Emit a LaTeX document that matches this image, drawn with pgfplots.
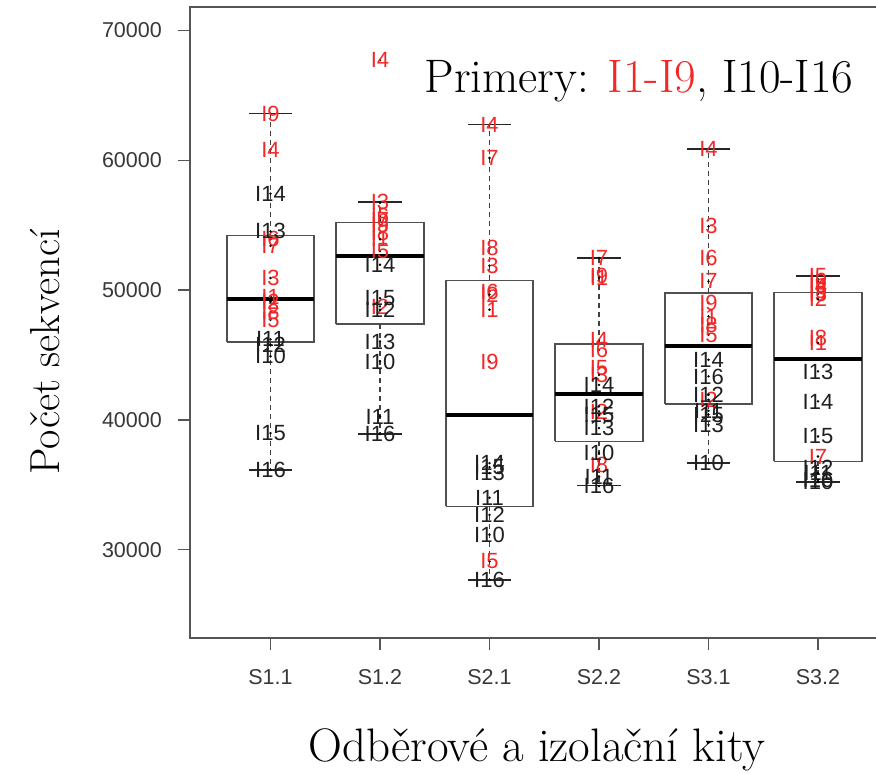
\documentclass[border=0pt]{standalone}
\usepackage{pgfplots}
\pgfplotsset{compat=1.18}
\usepackage{pgfplotstable}
\usepackage{fontspec}
\newfontfamily\arial{Liberation Sans}
\definecolor{rlab}{RGB}{242,40,40}
\definecolor{framec}{RGB}{85,85,85}
\definecolor{boxc}{RGB}{80,80,80}

\pgfplotstableread{
x y lbl
1 63583 I9
1 60809 I4
1 53900 I6
1 53400 I7
1 50925 I3
1 49500 I1
1 49100 I2
1 48300 I8
1 47700 I5
2 67700 I4
2 56780 I3
2 55700 I6
2 55400 I7
2 55000 I9
2 54400 I8
2 53900 I1
2 53000 I5
2 48740 I2
3 62735 I4
3 60170 I7
3 53236 I8
3 51873 I3
3 49893 I6
3 49640 I2
3 48483 I1
3 44500 I9
3 29100 I5
4 52466 I7
4 51050 I9
4 50950 I1
4 46160 I4
4 45390 I6
4 43990 I5
4 43470 I3
4 40650 I2
4 36540 I8
5 60863 I4
5 54900 I3
5 52466 I6
5 50663 I7
5 49000 I9
5 47966 I1
5 47327 I8
5 46556 I5
5 41549 I2
6 51100 I5
6 50700 I6
6 50300 I4
6 49900 I9
6 49700 I3
6 49300 I2
6 46300 I8
6 45920 I1
6 37180 I7
}\redlabels

\pgfplotstableread{
x y lbl
1 57420 I14
1 54515 I13
1 46200 I11
1 45800 I12
1 44900 I10
1 38984 I15
1 36156 I16
2 51950 I14
2 49384 I15
2 48480 I12
2 46040 I13
2 44500 I10
2 40262 I11
2 38906 I16
3 36670 I14
3 36360 I15
3 35900 I13
3 34000 I11
3 32690 I12
3 31150 I10
3 27680 I16
4 42700 I14
4 41033 I12
4 40390 I15
4 39370 I13
4 37444 I10
4 35640 I11
4 34900 I16
5 44630 I14
5 43344 I16
5 41934 I12
5 40700 I11
5 40400 I15
5 39620 I13
5 36670 I10
6 43730 I13
6 41420 I14
6 38720 I15
6 36300 I12
6 35900 I11
6 35400 I16
6 35200 I10
}\blacklabels

\begin{document}
\begin{tikzpicture}
\begin{axis}[
  at={(0pt,0pt)}, anchor=south west,
  scale only axis, width=708.5pt, height=631pt,
  xmin=0.2648, xmax=6.7352, ymin=23200, ymax=71800,
  axis line style={draw=framec, line width=1.4pt},
  tick align=outside, major tick length=12pt,
  tick style={draw=framec, line width=1.4pt},
  tick pos=left,
  xtick={1,2,3,4,5,6},
  xticklabels={S1.1,S1.2,S2.1,S2.2,S3.1,S3.2},
  ytick={30000,40000,50000,60000,70000},
  scaled y ticks=false,
  /pgf/number format/1000 sep={},
  /pgf/number format/assume math mode=true,
  tick label style={font=\arial\fontsize{21.5}{21.5}\selectfont, text=black!78},
  yticklabel style={anchor=east, inner sep=0pt, xshift=-16pt},
  xticklabel style={anchor=north, inner sep=0pt, yshift=-19pt},
  unbounded coords=jump,
]
% boxes (quartiles)
\addplot[draw=boxc, line width=1.7pt, line join=miter, mark=none] coordinates {
 (0.6,45994) (1.4,45994) (1.4,54207) (0.6,54207) (0.6,45994) (1,nan)
 (1.6,47381) (2.4,47381) (2.4,55209) (1.6,55209) (1.6,47381) (2,nan)
 (2.6,33330) (3.4,33330) (3.4,50740) (2.6,50740) (2.6,33330) (3,nan)
 (3.6,38337) (4.4,38337) (4.4,45840) (3.6,45840) (3.6,38337) (4,nan)
 (4.6,41240) (5.4,41240) (5.4,49770) (4.6,49770) (4.6,41240) (5,nan)
 (5.6,36800) (6.4,36800) (6.4,49815) (5.6,49815) (5.6,36800)
};
% medians
\addplot[draw=black, line width=4pt, mark=none] coordinates {
 (0.6,49307) (1.4,49307) (1,nan)
 (1.6,52643) (2.4,52643) (2,nan)
 (2.6,40393) (3.4,40393) (3,nan)
 (3.6,41988) (4.4,41988) (4,nan)
 (4.6,45656) (5.4,45656) (5,nan)
 (5.6,44707) (6.4,44707)
};
% whiskers (dashed)
\addplot[draw=black!75, line width=1.3pt, dash pattern=on 5pt off 4pt, mark=none] coordinates {
 (1,54207) (1,63583) (1,nan) (1,45994) (1,36156) (1,nan)
 (2,55209) (2,56779) (2,nan) (2,47381) (2,38906) (2,nan)
 (3,50740) (3,62735) (3,nan) (3,33330) (3,27680) (3,nan)
 (4,45840) (4,52466) (4,nan) (4,38337) (4,34950) (4,nan)
 (5,49770) (5,60863) (5,nan) (5,41240) (5,36670) (5,nan)
 (6,49815) (6,51100) (6,nan) (6,36800) (6,35200)
};
% whisker caps
\addplot[draw=black!85, line width=1.5pt, solid, mark=none] coordinates {
 (0.8,63583) (1.2,63583) (1,nan) (0.8,36156) (1.2,36156) (1,nan)
 (1.8,56779) (2.2,56779) (2,nan) (1.8,38906) (2.2,38906) (2,nan)
 (2.8,62735) (3.2,62735) (3,nan) (2.8,27680) (3.2,27680) (3,nan)
 (3.8,52466) (4.2,52466) (4,nan) (3.8,34950) (4.2,34950) (4,nan)
 (4.8,60863) (5.2,60863) (5,nan) (4.8,36670) (5.2,36670) (5,nan)
 (5.8,51100) (6.2,51100) (6,nan) (5.8,35200) (6.2,35200)
};
% labels
\addplot[only marks, mark=*, mark size=1pt, mark options={draw=none, fill=none},
  nodes near coords, point meta=explicit symbolic,
  every node near coord/.append style={text=rlab, font=\arial\fontsize{22}{22}\selectfont, inner sep=0pt, anchor=center}]
  table[x=x, y=y, meta=lbl] {\redlabels};
\addplot[only marks, mark=*, mark size=1pt, mark options={draw=none, fill=none},
  nodes near coords, point meta=explicit symbolic,
  every node near coord/.append style={text=black!88, font=\arial\fontsize{22}{22}\selectfont, inner sep=0pt, anchor=center}]
  table[x=x, y=y, meta=lbl] {\blacklabels};
\end{axis}
\node[rotate=90, inner sep=0pt, font=\fontsize{42}{42}\selectfont] at (-145pt,286pt) {Počet sekvencí};
\node[inner sep=0pt, font=\fontsize{47}{47}\selectfont] at (347pt,-112pt) {Odběrové a izolační kity};
\node[inner sep=0pt, font=\fontsize{47}{47}\selectfont] at (449pt,556.5pt) {Primery: \textcolor{rlab}{I\oldstylenums{1}-I\oldstylenums{9}}, I\oldstylenums{10}-I\oldstylenums{16}};
\pgfresetboundingbox
\path[use as bounding box] (-190pt,-136pt) rectangle (686pt,638pt);
\end{tikzpicture}
\end{document}
